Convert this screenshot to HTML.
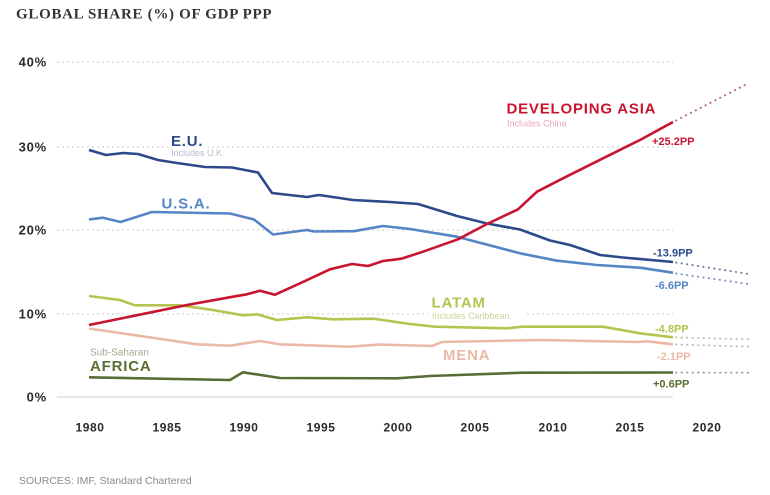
<!DOCTYPE html>
<html>
<head>
<meta charset="utf-8">
<style>
  html,body{margin:0;padding:0;background:#fff;}
  body{width:770px;height:495px;overflow:hidden;}
  svg{display:block;}
  .ax{font-family:"Liberation Sans",sans-serif;font-weight:bold;font-size:13px;fill:#2a2a2a;letter-spacing:0.8px;}
  .xl{font-family:"Liberation Sans",sans-serif;font-weight:bold;font-size:12px;fill:#2a2a2a;letter-spacing:0.6px;}
  .big{font-family:"Liberation Sans",sans-serif;font-weight:bold;font-size:15px;letter-spacing:0.8px;}
  .sm{font-family:"Liberation Sans",sans-serif;font-size:9px;}
  .pp{font-family:"Liberation Sans",sans-serif;font-weight:bold;font-size:11px;}
</style>
</head>
<body>
<svg width="770" height="495" viewBox="0 0 770 495" xmlns="http://www.w3.org/2000/svg">
  <!-- title -->
  <text x="16" y="18.5" font-family="Liberation Serif, serif" font-weight="bold" font-size="15" letter-spacing="0.7" fill="#333">GLOBAL SHARE (%) OF GDP PPP</text>

  <!-- gridlines -->
  <g stroke="#c8c8c8" stroke-width="1" stroke-dasharray="2 3">
    <line x1="57" y1="62" x2="673" y2="62"/>
    <line x1="57" y1="147" x2="673" y2="147"/>
    <line x1="57" y1="230" x2="673" y2="230"/>
    <line x1="57" y1="314" x2="673" y2="314"/>
  </g>
  <line x1="57" y1="397" x2="673" y2="397" stroke="#cfcfcf" stroke-width="1"/>

  <!-- y labels -->
  <text class="ax" x="47" y="66.7" text-anchor="end">40%</text>
  <text class="ax" x="47" y="151.7" text-anchor="end">30%</text>
  <text class="ax" x="47" y="234.7" text-anchor="end">20%</text>
  <text class="ax" x="47" y="318.7" text-anchor="end">10%</text>
  <text class="ax" x="47" y="401.7" text-anchor="end">0%</text>

  <!-- x labels -->
  <g class="xl" text-anchor="middle">
    <text x="90" y="431.5">1980</text>
    <text x="167" y="431.5">1985</text>
    <text x="244" y="431.5">1990</text>
    <text x="321" y="431.5">1995</text>
    <text x="398" y="431.5">2000</text>
    <text x="475" y="431.5">2005</text>
    <text x="553" y="431.5">2010</text>
    <text x="630" y="431.5">2015</text>
    <text x="707" y="431.5">2020</text>
  </g>

  <!-- label background breaks -->
  <rect x="168" y="132" width="40" height="17" fill="#fff"/>
  <rect x="428" y="309" width="96" height="10" fill="#fff"/>

  <!-- projections -->
  <g fill="none" stroke-width="1.8" stroke-linecap="round" stroke-dasharray="0.5 5">
    <line x1="676" y1="120.5" x2="749" y2="83" stroke="#b06070"/>
    <line x1="676" y1="262.5" x2="749" y2="274" stroke="#6a7898"/>
    <line x1="676" y1="273.5" x2="749" y2="284" stroke="#7890b0"/>
    <line x1="676" y1="337.4" x2="749" y2="339.3" stroke="#b8bca0"/>
    <line x1="676" y1="344.4" x2="749" y2="346.7" stroke="#c0b0a8"/>
    <line x1="676" y1="372.5" x2="749" y2="372.7" stroke="#909a88"/>
  </g>

  <!-- series -->
  <g fill="none" stroke-width="2.6" stroke-linejoin="round" stroke-linecap="butt">
    <!-- Africa -->
    <polyline stroke="#586d33" points="89,377.3 230,380 243,372.3 280,378 397,378.3 430,376 523,372.7 673,372.5"/>
    <!-- MENA -->
    <polyline stroke="#ebb9a7" points="89,328.5 197,344.3 230,345.7 260,341 280,344.3 350,346.7 380,344.5 432,346 442,342 540,340 637,342 647,341.3 673,344.3"/>
    <!-- LATAM -->
    <polyline stroke="#b6c350" points="89,296 120,300 135,305.3 180,305.3 213,310 243,315.3 257,314.3 277,320 307,317.3 333,319.3 373,318.7 410,324 435,326.7 507,328.3 523,326.7 603,326.7 640,333.3 673,337.3"/>
    <!-- USA -->
    <polyline stroke="#5585c5" points="89,219.5 103,217.7 120.5,222 152,212 230,213.5 254,219.5 273,234.5 307,230 314,231.5 354,231.2 383,226 410,229 457,236.7 520,253.3 557,260.7 597,265 640,267.7 673,272.7"/>
    <!-- EU -->
    <polyline stroke="#2c4a8a" points="89,150 106,155 123,153 138,154 158,160 177,163 205,167 232,167.5 258,172.5 272,193 307,197 319,195 353,200 390,202 418,204 457,216 487,223.5 520,229.5 550,240.5 570,245 600,255 623,257.5 673,262"/>
    <!-- Developing Asia -->
    <polyline stroke="#c8142f" points="89,325 187,305 233,296.7 247,294.3 260,290.7 275,294.7 300,283.3 330,269.3 352,264 368,266 383,261 397,259.3 402,258.5 423,251.7 458,239.3 487,224 518,209.3 537,191.7 563,178.3 603,158.3 640,140 673,122"/>
  </g>

  <!-- series labels -->
  <text class="big" x="171" y="146" fill="#2c4a8a" letter-spacing="1.3">E.U.</text>
  <text class="sm" x="171" y="156" fill="#b3bccb">Includes U.K.</text>

  <text class="big" x="161.5" y="208.3" fill="#5585c5" letter-spacing="1.6">U.S.A.</text>

  <text class="big" x="506.5" y="113.3" fill="#c8142f">DEVELOPING ASIA</text>
  <text class="sm" x="507" y="126.5" fill="#eaa9b6">Includes China</text>

  <text class="big" x="431.5" y="307.7" fill="#b6c350">LATAM</text>
  <text class="sm" x="432" y="318.8" fill="#cdd49a">Includes Caribbean</text>

  <text class="big" x="443" y="360" fill="#ebb9a7" letter-spacing="2">MENA</text>

  <text x="90" y="355.3" font-family="Liberation Sans, sans-serif" font-size="10" fill="#a3aa94">Sub-Saharan</text>
  <text class="big" x="90" y="371" fill="#586d33">AFRICA</text>

  <!-- PP labels -->
  <text class="pp" x="652" y="145" fill="#c8142f">+25.2PP</text>
  <text class="pp" x="653" y="256.7" fill="#2c4a8a">-13.9PP</text>
  <text class="pp" x="655" y="289" fill="#5585c5">-6.6PP</text>
  <text class="pp" x="655" y="332.3" fill="#b6c350">-4.8PP</text>
  <text class="pp" x="657" y="360" fill="#ebb9a7">-2.1PP</text>
  <text class="pp" x="653" y="387.3" fill="#586d33">+0.6PP</text>

  <!-- sources -->
  <text x="19" y="484" font-family="Liberation Sans, sans-serif" font-size="10.5" fill="#8a8a8a">SOURCES: IMF, Standard Chartered</text>
</svg>
</body>
</html>
